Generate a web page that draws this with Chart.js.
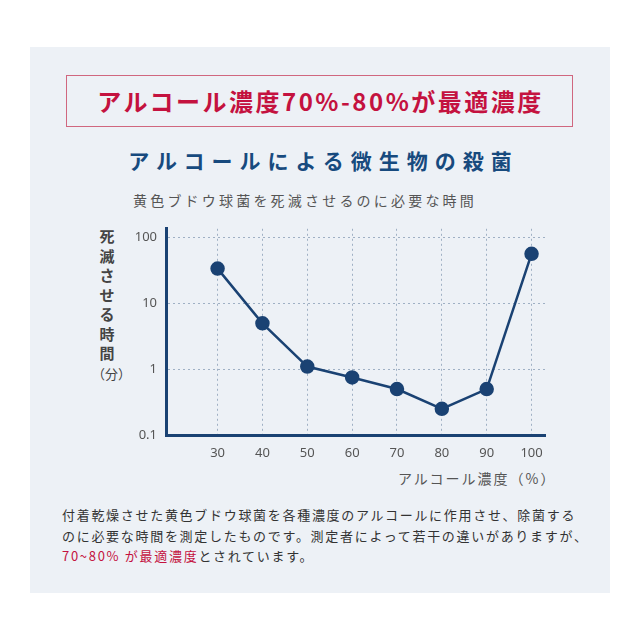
<!DOCTYPE html>
<html>
<head>
<meta charset="utf-8">
<script src="https://cdn.jsdelivr.net/npm/chart.js@4"></script>
<style>
body{margin:0;background:#fff;font-family:"Noto Sans CJK JP","Noto Sans",sans-serif;}
#panel{position:absolute;left:30px;top:47px;width:580px;height:546px;background:#edf1f6;}
#head{position:absolute;left:66px;top:75px;width:505px;height:50px;border:1.5px solid #d0677f;
  color:#c4123f;font-weight:bold;font-size:24px;letter-spacing:2.5px;text-indent:2px;text-align:center;line-height:50px;}
#title{position:absolute;left:0;width:640px;top:145px;text-align:center;color:#174a7e;font-weight:bold;font-size:21px;letter-spacing:7px;text-indent:7px;}
#sub{position:absolute;left:133px;top:190px;color:#555;font-size:14px;letter-spacing:3.2px;}
#ytitle{position:absolute;left:92px;top:226px;width:30px;text-align:center;color:#444;font-size:15px;font-weight:bold;line-height:19.5px;}
#ytitle span{font-size:13px;font-weight:normal;}
#xtitle{position:absolute;left:398px;top:468px;color:#555;font-size:14px;letter-spacing:2px;}
#note{position:absolute;left:62px;top:505px;color:#333;font-size:13px;letter-spacing:1.7px;line-height:20.5px;}
#note b{color:#c4123f;font-weight:normal;}
#wrap{position:absolute;left:110px;top:212px;width:450px;height:258px;}
</style>
</head>
<body>
<div id="panel"></div>
<div id="head">アルコール濃度70%-80%が最適濃度</div>
<div id="title">アルコールによる微生物の殺菌</div>
<div id="sub">黄色ブドウ球菌を死滅させるのに必要な時間</div>
<div id="ytitle">死<br>滅<br>さ<br>せ<br>る<br>時<br>間<br><span>（分）</span></div>
<div id="xtitle">アルコール濃度（%）</div>
<div id="wrap"><canvas id="chart"></canvas></div>
<div id="note">付着乾燥させた黄色ブドウ球菌を各種濃度のアルコールに作用させ、除菌する<br>のに必要な時間を測定したものです。測定者によって若干の違いがありますが、<br><b>70~80% が最適濃度</b>とされています。</div>
<script>
let concentrations=[30,40,50,60,70,80,90,100];
let minutes=[34,5,1.1,0.75,0.5,0.25,0.5,57];
let yTicks=[0.1,1,10,100];

let navy="#1a4273";

new Chart(document.getElementById("chart"),{
    type:"line",
    data:{
        datasets:[{
            data:concentrations.map((c,i)=>({x:c,y:minutes[i]})),
            borderColor:navy,
            backgroundColor:navy,
            borderWidth:2.5,
            pointRadius:6,
            pointHoverRadius:6,
            tension:0
        }]
    },
    options:{
        responsive:true,
        maintainAspectRatio:false,
        animation:false,
        layout:{padding:{top:0,right:15,left:0,bottom:0}},
        plugins:{legend:{display:false},tooltip:{enabled:false}},
        scales:{
            x:{
                type:"linear",
                min:18.5,
                max:103,
                afterBuildTicks:s=>{s.ticks=concentrations.map(v=>({value:v}));},
                afterFit:s=>{s.height=35;},
                grid:{color:"#9fb0c4",lineWidth:1,drawTicks:false},
                border:{color:navy,width:3,dash:[2,3]},
                ticks:{color:"#555",font:{size:13,family:"Noto Sans"},padding:10}
            },
            y:{
                type:"logarithmic",
                min:0.1,
                max:137,
                afterBuildTicks:s=>{s.ticks=yTicks.map(v=>({value:v}));},
                afterFit:s=>{s.width=56;},
                grid:{color:"#9fb0c4",lineWidth:1,drawTicks:false},
                border:{color:navy,width:3,dash:[2,3]},
                ticks:{color:"#555",font:{size:13,family:"Noto Sans"},padding:9,callback:v=>String(v)}
            }
        }
    }
});
</script>
</body>
</html>
